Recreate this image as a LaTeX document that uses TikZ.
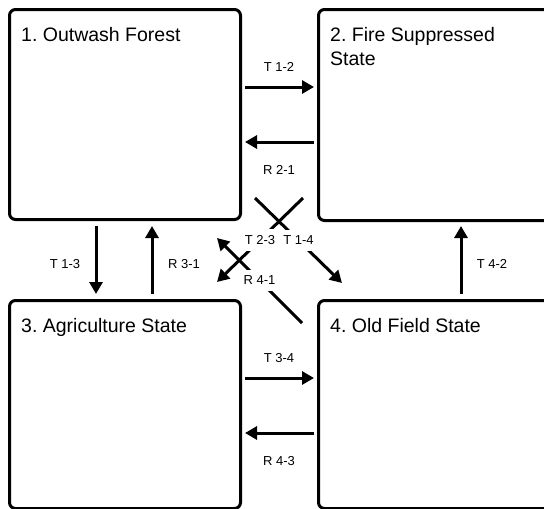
\documentclass[tikz,border=0pt]{standalone}
\usepackage{fontspec}
\setmainfont{Liberation Sans}
\usetikzlibrary{arrows.meta}
\frenchspacing
\begin{document}
\begin{tikzpicture}[x=1pt,y=-1pt,
  statebox/.style={draw=black, line width=3pt, rounded corners=6pt, inner sep=0pt, anchor=north west},
  conn/.style={line width=3pt, -{Triangle[length=12pt,width=13pt]}},
  lbl/.style={font=\fontsize{13}{15}\selectfont, inner sep=0pt},
  titletext/.style={font=\fontsize{19.5}{24}\selectfont, anchor=base west, align=left, inner sep=0pt},
  dlbl/.style={lbl, fill=white, inner xsep=3pt, inner ysep=6.5pt}
]
\useasboundingbox (0,0) rectangle (544,509);
\clip (0,0) rectangle (544,509);
% state boxes
\node[statebox, minimum width=231pt, minimum height=210pt] (s1) at (8,8) {};
\node[statebox, minimum width=260pt, minimum height=211pt] (s2) at (317,8) {};
\node[statebox, minimum width=231pt, minimum height=208pt] (s3) at (8,299) {};
\node[statebox, minimum width=260pt, minimum height=208pt] (s4) at (317,299) {};
% titles
\node[titletext] (n1) at (21,41) {1. Outwash Forest};
\node[titletext] (n2) at (330,65) {2. Fire Suppressed\\State};
\node[titletext] (n3) at (21,332) {3. Agriculture State};
\node[titletext] (n4) at (330,332) {4. Old Field State};
% connector end points
\coordinate (a12s) at (245,87);  \coordinate (a12e) at (314,87);
\coordinate (a21s) at (314,142); \coordinate (a21e) at (245,142);
\coordinate (a34s) at (245,378); \coordinate (a34e) at (314,378);
\coordinate (a43s) at (314,433); \coordinate (a43e) at (245,433);
\coordinate (a13s) at (96,226);  \coordinate (a13e) at (96,294);
\coordinate (a31s) at (152,294); \coordinate (a31e) at (152,226);
\coordinate (a42s) at (461,294); \coordinate (a42e) at (461,226);
\coordinate (a23s) at (303,198); \coordinate (a23e) at (217,282);
\coordinate (a14s) at (255,198); \coordinate (a14e) at (342,283);
\coordinate (a41s) at (302,323); \coordinate (a41e) at (217,238);
% straight connectors
\draw[conn] (a12s) -- (a12e);
\draw[conn] (a21s) -- (a21e);
\draw[conn] (a34s) -- (a34e);
\draw[conn] (a43s) -- (a43e);
\draw[conn] (a13s) -- (a13e);
\draw[conn] (a31s) -- (a31e);
\draw[conn] (a42s) -- (a42e);
% labels
\node[lbl] (l12) at (279,67) {T 1-2};
\node[lbl] (l21) at (279,170) {R 2-1};
\node[lbl] (l34) at (279,358) {T 3-4};
\node[lbl] (l43) at (279,461) {R 4-3};
\node[lbl] (l13) at (65,264) {T 1-3};
\node[lbl] (l31) at (184,264) {R 3-1};
\node[lbl] (l42) at (492,264) {T 4-2};
% diagonal connectors
\draw[conn] (a23s) -- node[dlbl] (l23) {T 2-3} (a23e);
\draw[conn] (a14s) -- node[dlbl] (l14) {T 1-4} (a14e);
\draw[conn] (a41s) -- node[dlbl] (l41) {R 4-1} (a41e);
\end{tikzpicture}
\end{document}
